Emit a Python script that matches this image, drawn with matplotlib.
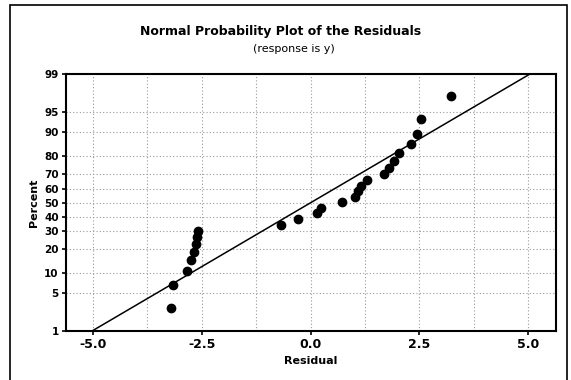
import numpy as np
import matplotlib
matplotlib.use("Agg")
import matplotlib.pyplot as plt
from matplotlib.patches import Rectangle
from statistics import NormalDist

# residuals, with the percent position of each point
residual = [-3.22, -3.16, -2.84, -2.76, -2.68, -2.64, -2.62, -2.58,
            -0.67, -0.28, 0.15, 0.23, 0.72, 1.03, 1.10, 1.16, 1.29,
            1.69, 1.80, 1.91, 2.03, 2.31, 2.45, 2.54, 3.23]
percent = [2.8, 6.8, 10.7, 14.7, 18.6, 22.5, 26.5, 30.4,
           34.4, 38.3, 42.2, 46.2, 50.1, 54.0, 58.0, 61.9, 65.8,
           69.8, 73.7, 77.6, 81.6, 85.5, 89.4, 93.4, 97.3]
y_ticks = [1, 5, 10, 20, 30, 40, 50, 60, 70, 80, 90, 95, 99]
x_ticks = [-5.0, -2.5, 0.0, 2.5, 5.0]
x_minor = [-3.75, -1.25, 1.25, 3.75]

nd = NormalDist()
_ppf = np.vectorize(lambda p: nd.inv_cdf(min(max(p / 100.0, 1e-9), 1 - 1e-9)),
                    otypes=[float])
_cdf = np.vectorize(lambda z: nd.cdf(z) * 100.0, otypes=[float])


def fwd(p):
    return _ppf(np.asarray(p, dtype=float))


def inv(z):
    return _cdf(np.asarray(z, dtype=float))


fig = plt.figure(figsize=(5.71, 3.8), dpi=100)
ax = fig.add_axes([0.115, 0.129, 0.858, 0.676])
ax.set_yscale("function", functions=(fwd, inv))

# fitted normal line from the residuals' mean and std
mu = np.mean(residual)
sd = np.std(residual, ddof=1)
line_p = np.array([1.0, 99.0])
line_x = mu + sd * np.array([nd.inv_cdf(p / 100) for p in line_p])
ax.plot(line_x, line_p, color="black", lw=1.1, zorder=3)

ax.plot(residual, percent, "o", color="black", ms=6, zorder=4)

ax.set_xlim(-5.63, 5.63)
ax.set_ylim(1, 99)
ax.set_yticks(y_ticks)
ax.set_yticklabels([str(t) for t in y_ticks])
ax.set_xticks(x_ticks)
ax.set_xticklabels(["%.1f" % t for t in x_ticks])
ax.set_xticks(x_minor, minor=True)
ax.yaxis.set_minor_locator(matplotlib.ticker.NullLocator())

ax.grid(True, which="both", axis="x", color="#9a9a9a", ls=(0, (1, 2)), lw=0.8)
ax.grid(True, which="major", axis="y", color="#9a9a9a", ls=(0, (1, 2)), lw=0.8)
ax.tick_params(axis="x", which="minor", length=0)
ax.tick_params(axis="both", which="major", length=3, width=1.2, direction="out",
               labelsize=7.5, pad=2)
for lab in ax.get_xticklabels() + ax.get_yticklabels():
    lab.set_fontweight("bold")
ax.tick_params(axis="x", labelsize=9)

for s in ax.spines.values():
    s.set_linewidth(1.5)

ax.set_xlabel("Residual", fontsize=8, fontweight="bold", labelpad=4)
ax.set_ylabel("Percent", fontsize=8, fontweight="bold", labelpad=4)

fig.text(0.492, 0.918, "Normal Probability Plot of the Residuals", ha="center",
         va="center", fontsize=9, fontweight="bold")
fig.text(0.514, 0.871, "(response is y)", ha="center", va="center", fontsize=8)

fig.patches.append(Rectangle((0.018, -0.01), 0.975, 0.997, transform=fig.transFigure,
                             fill=False, edgecolor="black", lw=1.2))

fig.savefig("out.png", dpi=100)
